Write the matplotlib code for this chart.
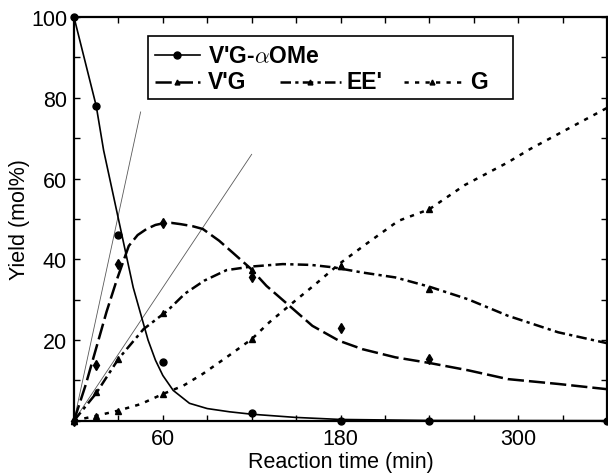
import matplotlib
matplotlib.use("Agg")
import matplotlib.pyplot as plt
from matplotlib.patches import Rectangle

plt.rcParams['font.family'] = ['Liberation Sans', 'DejaVu Sans']
plt.rcParams['mathtext.fontset'] = 'cm'

# ---------------------------------------------------------------------------
# Measured points (read off the figure)
# ---------------------------------------------------------------------------
t_ome = [0, 15, 30, 60, 120, 180, 240, 360]
y_ome = [100, 78, 46, 14.6, 1.8, 0, 0, 0]

t_meas = [0, 15, 30, 60, 120, 180, 240]
y_vg = [0, 13.8, 38.8, 48.9, 35.7, 22.9, 15.3]
y_ee = [0, 7.0, 15.3, 26.8, 37.4, 38.4, 32.6]
y_g = [0, 1.2, 2.5, 6.6, 20.2, 38.4, 52.4]

# ---------------------------------------------------------------------------
# Fitted curves
# ---------------------------------------------------------------------------
fit_ome_t = [0, 15, 20, 30, 40, 45, 50, 55, 60, 67, 78, 90, 105, 120, 150, 180, 240, 360]
fit_ome_v = [100, 78, 67, 50, 33, 26.5, 20, 15, 11.2, 7.5, 4.3, 3.0, 2.2, 1.6, 0.8, 0.3, 0.05, 0]

fit_vg_t = [0, 8, 15, 22, 29, 37, 43, 49, 55, 60, 66, 72, 80, 87, 98, 107, 119, 130,
            146, 161, 179, 195, 217, 240, 266, 293, 327, 360]
fit_vg_v = [0, 9, 18, 27, 35, 43.3, 46, 47.5, 48.5, 48.9, 49, 48.7, 48.2, 47.5, 44.6,
            41.7, 37.8, 33.4, 28.3, 23.5, 19.8, 17.7, 15.7, 14.3, 12.5, 10.3, 9.1, 7.8]

fit_ee_t = [0, 15, 30, 47, 63, 75, 88, 103, 120, 141, 160, 175, 195, 217, 240, 266, 293, 327, 360]
fit_ee_v = [0, 6.8, 15.3, 22.7, 27.2, 31.5, 34.7, 37.3, 38.2, 38.8, 38.6, 38, 36.7, 35.5,
            33.2, 30.1, 26, 21.9, 19.2]

fit_g_t = [0, 15, 30, 45, 60, 74, 87, 103, 120, 132, 148, 163, 179, 197, 219, 240, 264, 293, 308, 360]
fit_g_v = [0, 1.2, 2.5, 4.1, 6.6, 8.7, 11.6, 15.7, 20.2, 24.4, 29.3, 33.8, 38.8, 43.7,
           49.5, 52.4, 58.4, 64, 67.3, 77.5]

# initial-rate tangent lines
tan1_t = [0, 45]
tan1_v = [0, 76.5]
tan2_t = [0, 120]
tan2_v = [0, 66]

# line styles
LS_VG = (0, (6.5, 2.0))
LS_EE = (0, (4.2, 1.7, 1.3, 1.7))
LS_G = (0, (1.7, 2.5))

fig = plt.figure(figsize=(6.08, 4.77), dpi=100)
ax = fig.add_axes([0.1217, 0.116, 0.8767, 0.846])

ax.plot(tan1_t, tan1_v, color="0.35", lw=0.6)
ax.plot(tan2_t, tan2_v, color="0.35", lw=0.6)

ax.plot(fit_ome_t, fit_ome_v, color="black", lw=1.2)
ax.plot(fit_vg_t, fit_vg_v, color="black", lw=1.8, linestyle=LS_VG)
ax.plot(fit_ee_t, fit_ee_v, color="black", lw=1.8, linestyle=LS_EE)
ax.plot(fit_g_t, fit_g_v, color="black", lw=1.8, linestyle=LS_G)

ax.plot(t_ome, y_ome, "o", color="black", ms=5, clip_on=False)
ax.plot(t_meas, y_vg, "d", color="black", ms=5, clip_on=False)
ax.plot(t_meas, y_ee, "^", color="black", ms=4.5, clip_on=False)
ax.plot(t_meas, y_g, "^", color="black", ms=4, clip_on=False)

ax.set_xlim(0, 360)
ax.set_ylim(0, 100)
ax.set_xticks([60, 180, 300])
ax.set_xticks(range(0, 361, 30), minor=True)
ax.set_yticks([20, 40, 60, 80, 100])
ax.set_yticks(range(0, 101, 10), minor=True)
ax.tick_params(which="both", direction="in", length=4, width=1,
               top=True, right=True, labelsize=15.5, pad=5)
for sp in ax.spines.values():
    sp.set_linewidth(1.6)

ax.set_xlabel("Reaction time (min)", fontsize=15.5, labelpad=2)
ax.set_ylabel("Yield (mol%)", fontsize=15.5, labelpad=1)

# --- hand-built legend box ---
tr = ax.transAxes
ax.add_patch(Rectangle((0.138, 0.797), 0.686, 0.157, transform=tr,
                       facecolor="white", edgecolor="black", lw=1.2, zorder=5))
entries = [
    ("V'G-$\\alpha$OMe", "-", "o", 5, 1.2, 0.152, 0.236, 0.251, 0.906),
    ("V'G", LS_VG, "^", 3.5, 1.8, 0.152, 0.236, 0.251, 0.840),
    ("EE'", LS_EE, "^", 3.5, 1.8, 0.386, 0.501, 0.512, 0.840),
    ("G", LS_G, "^", 3.5, 1.8, 0.619, 0.726, 0.743, 0.840),
]
for label, ls, mk, ms, lw, x0, x1, xt, yy in entries:
    ax.plot([x0, x1], [yy, yy], transform=tr, color="black", lw=lw,
            linestyle=ls, zorder=6, clip_on=False)
    ax.plot([(x0 + x1) / 2], [yy], mk, transform=tr, color="black", ms=ms,
            zorder=6, clip_on=False)
    ax.text(xt, yy, label, transform=tr, fontsize=16.5, fontweight="bold",
            va="center", ha="left", zorder=7)

fig.savefig("out.png", dpi=100)
